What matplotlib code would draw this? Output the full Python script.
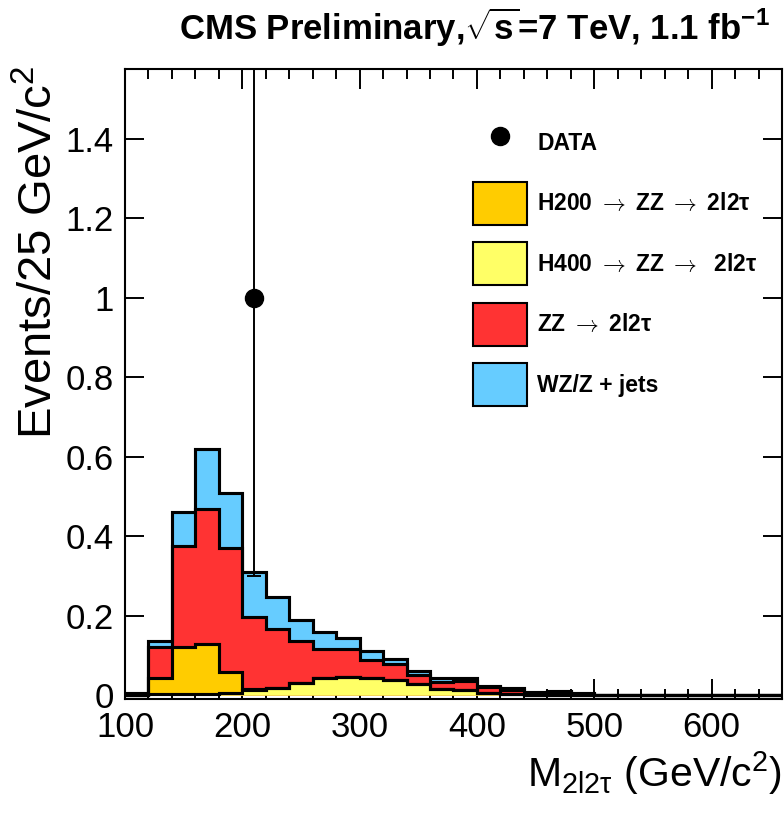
import numpy as np
import matplotlib
matplotlib.use("Agg")
import matplotlib.pyplot as plt
from matplotlib.lines import Line2D
from matplotlib.patches import Patch
from matplotlib.font_manager import FontProperties

# ---------------- data ----------------
bin_edges = list(range(100, 661, 20))  # GeV/c^2

h400 = [0, 0.002, 0.002, 0.003, 0.004, 0.013, 0.017, 0.029, 0.042, 0.046,
        0.042, 0.038, 0.028, 0.014, 0.012, 0.005, 0.002, 0.001, 0.001, 0,
        0, 0, 0, 0, 0, 0, 0, 0]
h200 = [0, 0.040, 0.120, 0.125, 0.054, 0.003, 0.001, 0.001, 0, 0,
        0, 0, 0, 0, 0, 0, 0, 0, 0, 0,
        0, 0, 0, 0, 0, 0, 0, 0]
zz = [0, 0.080, 0.253, 0.340, 0.311, 0.181, 0.147, 0.106, 0.075, 0.069,
      0.046, 0.040, 0.022, 0.019, 0.023, 0.015, 0.011, 0.004, 0.006, 0.002,
      0, 0, 0, 0, 0, 0, 0, 0]
wz_zjets = [0.005, 0.014, 0.086, 0.151, 0.140, 0.113, 0.082, 0.053, 0.041, 0.028,
            0.023, 0.012, 0.011, 0.009, 0.007, 0.003, 0.004, 0.003, 0.003, 0.002,
            0, 0, 0, 0, 0, 0, 0, 0]

data_x = [210]
data_y = [1.0]
data_err_low = [0.70]
data_err_high = [1.36]

ARW = "$\\rightarrow$"
labels = ["DATA", f"H200 {ARW} ZZ {ARW} 2l2\u03c4", f"H400 {ARW} ZZ {ARW}  2l2\u03c4",
          f"ZZ {ARW} 2l2\u03c4", "WZ/Z + jets"]
colors = {"h200": "#ffcc00", "h400": "#ffff66", "zz": "#ff3333", "wz": "#66ccff"}

# ---------------- style ----------------
plt.rcParams["font.family"] = ["Liberation Sans", "DejaVu Sans"]
plt.rcParams["mathtext.fontset"] = "custom"
plt.rcParams["mathtext.rm"] = "Liberation Sans"
plt.rcParams["mathtext.it"] = "Liberation Sans:italic"
plt.rcParams["mathtext.bf"] = "Liberation Sans:bold"
plt.rcParams["mathtext.sf"] = "Liberation Sans"

W, H = 784, 826
fig = plt.figure(figsize=(W / 100, H / 100), dpi=100)
ax = fig.add_axes([125 / W, 1 - 698.7 / H, (782 - 125) / W, (698.7 - 69) / H])

edges = np.array(bin_edges, dtype=float)
l1 = np.array(h400)
l2 = l1 + np.array(h200)
l3 = l2 + np.array(zz)
l4 = l3 + np.array(wz_zjets)

lw_h = 2.2
for vals, col in [(l4, colors["wz"]), (l3, colors["zz"]), (l2, colors["h200"]), (l1, colors["h400"])]:
    ax.stairs(vals, edges, baseline=0, fill=True, facecolor=col,
              edgecolor="black", linewidth=lw_h, zorder=2)
    ax.stairs(vals, edges, baseline=0, fill=False, color="black",
              linewidth=lw_h, zorder=2.1)

ax.errorbar(data_x, data_y, yerr=[data_err_low, data_err_high], fmt="o",
            color="black", markersize=13, elinewidth=1.4, capsize=5,
            capthick=1.4, zorder=5, clip_on=True)

ax.set_xlim(100, 660)
ax.set_ylim(-0.0093, 1.575)

ax.xaxis.set_major_locator(plt.MultipleLocator(100))
ax.xaxis.set_minor_locator(plt.MultipleLocator(20))
ax.yaxis.set_major_locator(plt.MultipleLocator(0.2))
ax.yaxis.set_major_formatter(plt.FuncFormatter(lambda v, p: ("%g" % round(v, 2))))

ax.tick_params(axis="both", which="both", direction="in", top=True, right=True,
               width=1.4, labelsize=25)
ax.tick_params(axis="x", which="major", length=14.4, pad=9)
ax.tick_params(axis="x", which="minor", length=7.2)
ax.tick_params(axis="y", which="major", length=13.7, pad=8)
for s in ax.spines.values():
    s.set_linewidth(1.5)

ax.set_xlabel("M$_{\\mathrm{2l2\u03c4}}$ (GeV/c$^{\\mathrm{2}}$)", fontsize=29.5, loc="right")
ax.xaxis.set_label_coords(1.0, -0.08)
ax.set_ylabel("Events/25 GeV/c$^{\\mathrm{2}}$", fontsize=34, loc="top")
ax.yaxis.set_label_coords(-0.095, 1.006)

fig.text(474 / W, 1 - 40 / H,
         "CMS Preliminary,$\\sqrt{\\mathbf{s}}$=7 TeV, 1.1 fb$^{\\mathbf{-1}}$",
         ha="center", va="baseline", fontsize=25, fontweight="bold")

handles = [
    Line2D([], [], marker="o", ls="none", color="black", markersize=13),
    Patch(facecolor=colors["h200"], edgecolor="black", linewidth=1.5),
    Patch(facecolor=colors["h400"], edgecolor="black", linewidth=1.5),
    Patch(facecolor=colors["zz"], edgecolor="black", linewidth=1.5),
    Patch(facecolor=colors["wz"], edgecolor="black", linewidth=1.5),
]
fs_leg = 16.5
leg_prop = FontProperties(family=["Liberation Sans", "DejaVu Sans"], size=fs_leg,
                          weight="bold", math_fontfamily="cm")
leg = ax.legend(handles, labels, loc="upper left",
                bbox_to_anchor=(473 / W, 1 - 121.5 / H), bbox_transform=fig.transFigure,
                frameon=False, borderpad=0, borderaxespad=0,
                handlelength=2.36, handleheight=2.51, labelspacing=0.76,
                handletextpad=0.45, prop=leg_prop)

fig.savefig("out.png", dpi=100)
